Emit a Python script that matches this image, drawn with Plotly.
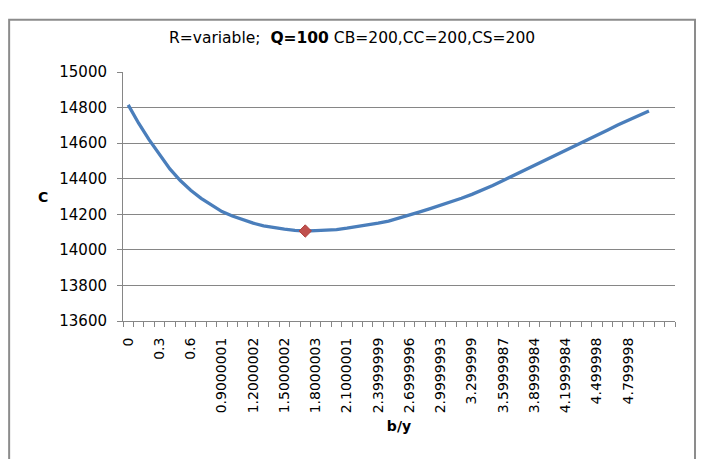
import plotly.graph_objects as go

# b/y values along the category axis (0 .. 5.0 step 0.1)
b_values = [0.0, 0.1, 0.2, 0.3, 0.4, 0.5, 0.6, 0.7, 0.8, 0.9,
            1.0, 1.1, 1.2, 1.3, 1.4, 1.5, 1.6, 1.7, 1.8, 1.9,
            2.0, 2.1, 2.2, 2.3, 2.4, 2.5, 2.6, 2.7, 2.8, 2.9,
            3.0, 3.1, 3.2, 3.3, 3.4, 3.5, 3.6, 3.7, 3.8, 3.9,
            4.0, 4.1, 4.2, 4.3, 4.4, 4.5, 4.6, 4.7, 4.8, 4.9,
            5.0]

# total cost C for each b/y
cost = [14815, 14712, 14620, 14535, 14455, 14390, 14335, 14290, 14250, 14215,
        14190, 14168, 14150, 14135, 14124, 14116, 14110, 14106, 14108, 14111,
        14114, 14122, 14130, 14140, 14150, 14162, 14178, 14198, 14214, 14232,
        14250, 14270, 14290, 14312, 14335, 14362, 14390, 14418, 14445, 14472,
        14500, 14528, 14556, 14586, 14615, 14645, 14673, 14702, 14728, 14755,
        14781]

# labelled categories on the horizontal axis
tick_positions = [0.0, 0.3, 0.6, 0.9, 1.2, 1.5, 1.8, 2.1, 2.4, 2.7,
                  3.0, 3.3, 3.6, 3.9, 4.2, 4.5, 4.8]
tick_labels = ["0", "0.3", "0.6", "0.9000001", "1.2000002", "1.5000002",
               "1.8000003", "2.1000001", "2.3999999", "2.6999996",
               "2.9999993", "3.299999", "3.5999987", "3.8999984",
               "4.1999984", "4.499998", "4.799998"]

# optimum point
opt_b = [1.7]
opt_cost = [14106]

# category boundaries (53 category slots)
n_slots = 53
step = 0.1
x_lo = -step / 2
boundaries = [x_lo + step * k for k in range(n_slots + 1)]

axis_gray = "#868686"
font_family = "DejaVu Sans"

fig = go.Figure()
fig.add_trace(go.Scatter(
    x=b_values, y=cost, mode="lines",
    line=dict(color="#4A7EBB", width=3.3),
    hoverinfo="x+y", showlegend=False,
))
fig.add_trace(go.Scatter(
    x=opt_b, y=opt_cost, mode="markers",
    marker=dict(symbol="diamond", size=9.5, color="#C0504D",
                line=dict(color="#B0403D", width=1)),
    showlegend=False,
))

W, H = 702, 459
ml, mr, mt, mb = 123.3, 27, 71.7, 138.3
pw = W - ml - mr
ph = H - mt - mb


def px_to_paper_x(px):
    return (px - ml) / pw


def px_to_paper_y(py):
    return (H - mb - py) / ph


fig.update_layout(
    width=W, height=H,
    margin=dict(l=ml, r=mr, t=mt, b=mb, pad=0),
    paper_bgcolor="white", plot_bgcolor="white",
    font=dict(family=font_family, color="#000000"),
    xaxis=dict(
        range=[x_lo, x_lo + step * n_slots],
        tickmode="array", tickvals=tick_positions, ticktext=tick_labels,
        tickangle=-90, ticks="", ticklabelstandoff=10,
        tickfont=dict(size=14, family=font_family, color="#000000"),
        showgrid=False, zeroline=False,
        showline=True, linecolor=axis_gray, linewidth=1,
        minor=dict(tickmode="array", tickvals=boundaries, ticks="outside",
                   ticklen=5, tickcolor=axis_gray, tickwidth=1, showgrid=False),
        title=dict(text="<b>b/y</b>", font=dict(size=14, family=font_family),
                   standoff=8),
    ),
    yaxis=dict(
        range=[13600, 15000], tickmode="linear", tick0=13600, dtick=200,
        tickformat="d",
        ticks="outside", ticklen=5, tickcolor=axis_gray, tickwidth=1,
        ticklabelstandoff=7,
        tickfont=dict(size=15, family=font_family, color="#000000"),
        showgrid=True, gridcolor=axis_gray, gridwidth=1,
        zeroline=False,
        showline=True, linecolor=axis_gray, linewidth=1,
    ),
    annotations=[
        dict(
            text="R=variable;&nbsp;&nbsp;<b>Q=100</b> CB=200,CC=200,CS=200",
            xref="paper", yref="paper",
            x=px_to_paper_x(352), y=px_to_paper_y(38),
            xanchor="center", yanchor="middle", showarrow=False,
            font=dict(size=15.5, family=font_family, color="#000000"),
        ),
        dict(
            text="<b>C</b>",
            xref="paper", yref="paper",
            x=px_to_paper_x(43.5), y=px_to_paper_y(197),
            xanchor="center", yanchor="middle", showarrow=False,
            font=dict(size=14, family=font_family, color="#000000"),
        ),
    ],
    shapes=[dict(
        type="rect", xref="paper", yref="paper", layer="below",
        x0=px_to_paper_x(9.5), x1=px_to_paper_x(695),
        y0=px_to_paper_y(480), y1=px_to_paper_y(19.5),
        line=dict(color="#8C8C8C", width=2), fillcolor="rgba(0,0,0,0)",
    )],
)

fig.write_html("out.html")
